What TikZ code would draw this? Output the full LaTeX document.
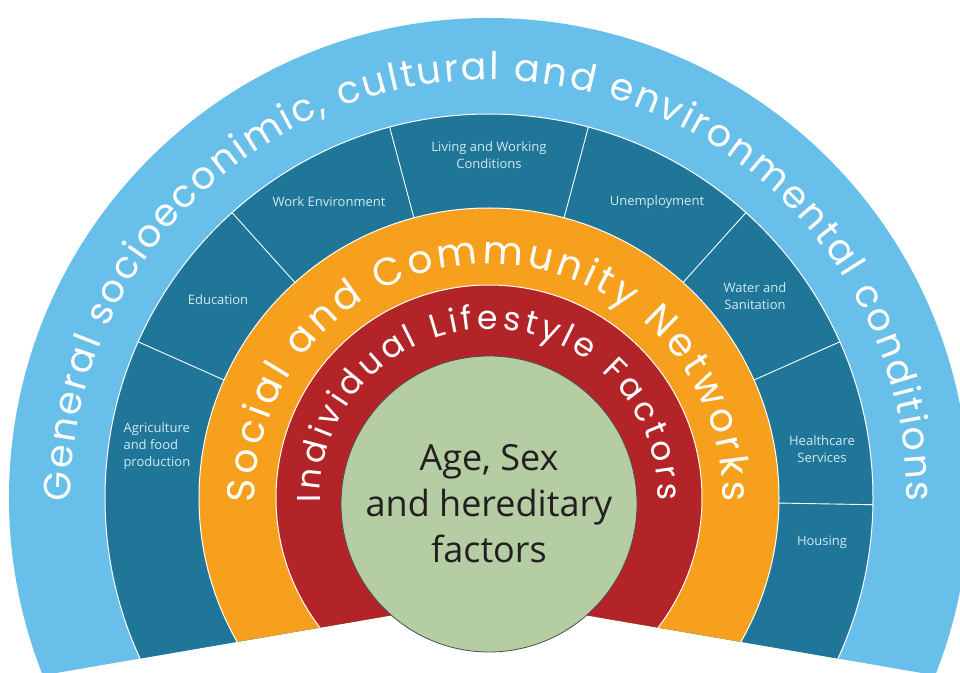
\documentclass[tikz,border=0pt]{standalone}
\usepackage{fontspec}
\setmainfont{Open Sans}
\newfontfamily\ringfont{Poppins}
\usetikzlibrary{decorations.text}
\definecolor{outerblue}{HTML}{68BFEA}
\definecolor{sectorblue}{HTML}{1F7698}
\definecolor{netorange}{HTML}{F7A01D}
\definecolor{lifered}{HTML}{B22427}
\definecolor{coregreen}{HTML}{B5CDA3}
\definecolor{lbltext}{HTML}{D3EAF2}
\definecolor{coretext}{HTML}{231F20}
\begin{document}
\begin{tikzpicture}[x=1pt, y=1pt,
  sector/.style={text=lbltext, font=\fontsize{13}{17}\selectfont, align=center},
  sep/.style={white, line width=0.9pt},
  band/.style={draw=white, line width=1pt}]
\useasboundingbox (-489,-174) rectangle (471,498);
\begin{scope}
\clip (-520,-190) -- (0,-100.5) -- (520,-190) -- (520,520) -- (-520,520) -- cycle;
\fill[outerblue] (0,0) circle[radius=480];
\filldraw[band, fill=sectorblue] (0,0) circle[radius=384];
\foreach \a in {-1,24,48,75,105,132,156}
  \draw[sep] (\a:290) -- (\a:384);
\filldraw[band, fill=netorange] (0,0) circle[radius=290];
\filldraw[band, fill=lifered] (0,0) circle[radius=213];
\end{scope}
\path[decorate, decoration={text along path, text color=white, text align={fit to path},
  text={|\ringfont\fontsize{38}{38}\selectfont|General socioeconimic, cultural and environmental conditions}}]
  (180.5:418) arc[start angle=180.5, end angle=-0.5, radius=418];
\path[decorate, decoration={text along path, text color=white, text align={fit to path},
  text={|\ringfont\fontsize{39}{39}\selectfont|Social and Community Networks}}]
  (181:234) arc[start angle=181, end angle=-1, radius=234];
\path[decorate, decoration={text along path, text color=white, text align={fit to path},
  text={|\ringfont\fontsize{33}{33}\selectfont|Individual Lifestyle Factors}}]
  (181.5:169) arc[start angle=181.5, end angle=-1, radius=169];
\node[circle, fill=coregreen, draw=coretext!80, line width=0.8pt, minimum size=296pt,
  inner sep=0pt, text=coretext, align=center, font=\fontsize{36}{46}\selectfont]
  (core) at (0,-6) {Age, Sex\\and hereditary\\factors};
\node[sector, align=left, anchor=west] (agri) at (-369,52) {Agriculture\\and food\\production};
\node[sector] (edu) at (-271,198) {Education};
\node[sector] (work) at (-160,296) {Work Environment};
\node[sector] (living) at (0,342.5) {Living and Working\\Conditions};
\node[sector] (unemp) at (168,296) {Unemployment};
\node[sector] (water) at (266,202) {Water and\\Sanitation};
\node[sector] (health) at (333,48.5) {Healthcare\\Services};
\node[sector] (housing) at (333,-44) {Housing};
\end{tikzpicture}
\end{document}
